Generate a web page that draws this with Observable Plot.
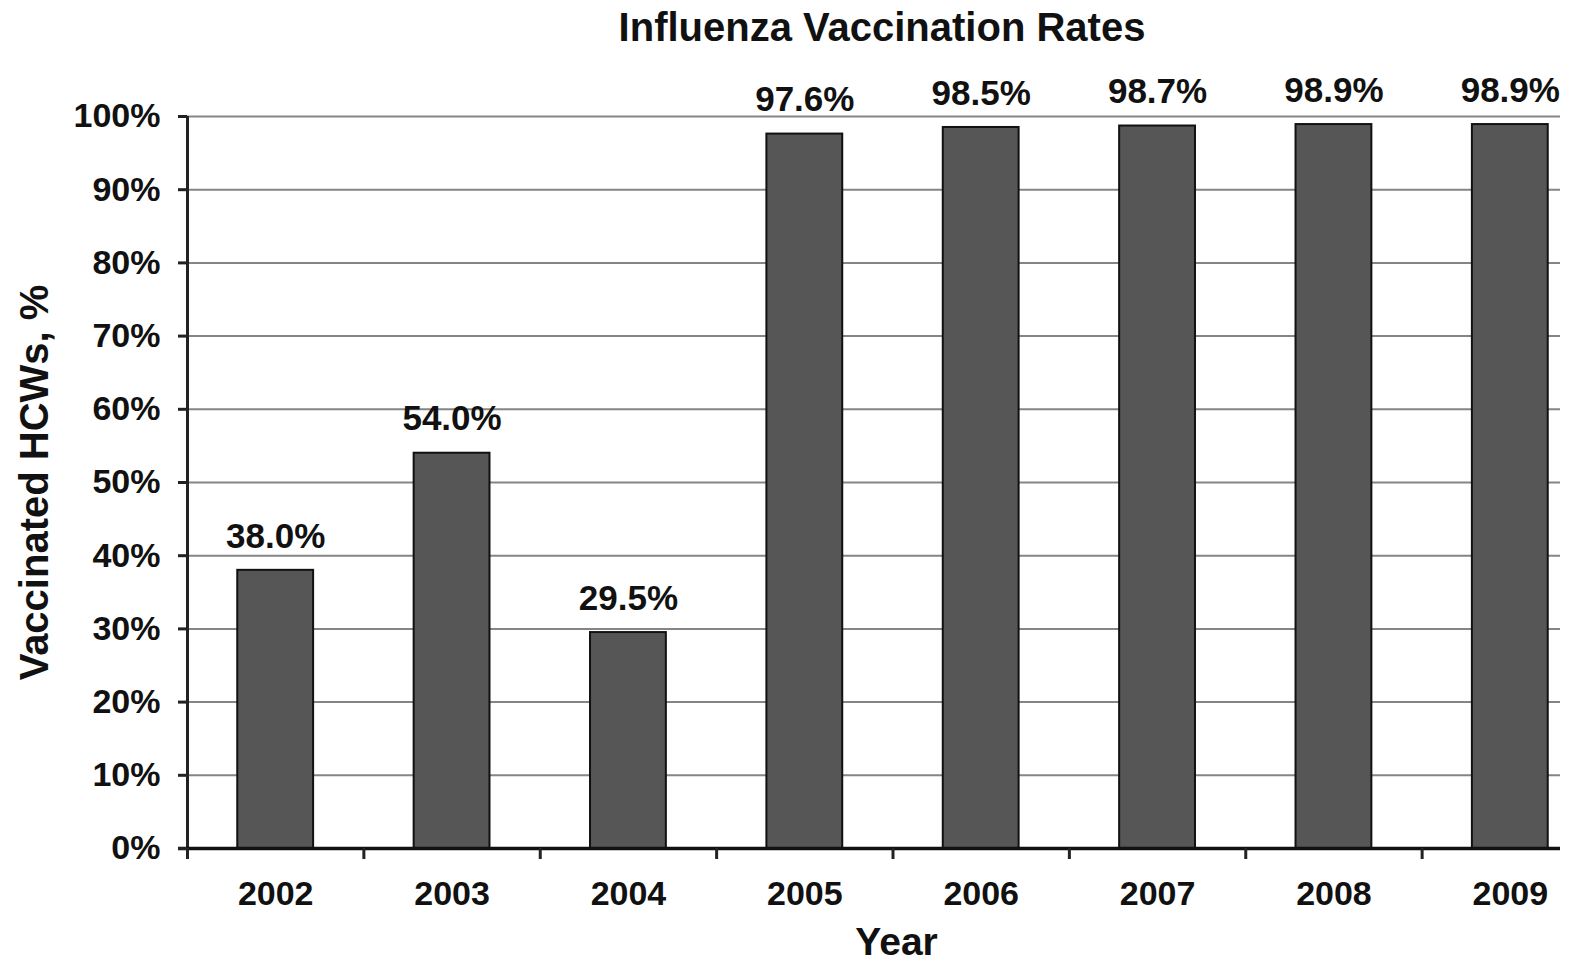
<!DOCTYPE html>
<html>
<head>
<meta charset="utf-8">
<script src="https://cdn.jsdelivr.net/npm/d3@7"></script>
<script src="https://cdn.jsdelivr.net/npm/@observablehq/plot@0.6"></script>
<style>
  html, body { margin: 0; padding: 0; background: #fff; overflow: hidden; }
  body { font-family: "Liberation Sans", Arial, sans-serif; }
  #title {
    position: relative; height: 55px; width: 1570px;
  }
  #title span {
    position: absolute; left: 882px; top: 27px;
    transform: translate(-50%, -50%);
    font-size: 40px; font-weight: bold; color: #111; white-space: nowrap;
  }
  #chart svg { display: block; }
</style>
</head>
<body>
<div id="title"><span>Influenza Vaccination Rates</span></div>
<div id="chart"></div>
<script>
// Share of health-care workers vaccinated against influenza, by year
const years = [2002, 2003, 2004, 2005, 2006, 2007, 2008, 2009];
const rates = [38.0, 54.0, 29.5, 97.6, 98.5, 98.7, 98.9, 98.9];
const yTicks = [0, 10, 20, 30, 40, 50, 60, 70, 80, 90, 100];
const xDomain = [2001.5, 2009.5];
const yearBoundaries = [2001.5, 2002.5, 2003.5, 2004.5, 2005.5, 2006.5, 2007.5, 2008.5];

const data = years.map((year, i) => ({year, value: rates[i]}));
const half = 0.215; // half bar width, in years

const font = "Liberation Sans, Arial, sans-serif";

const chart = Plot.plot({
  width: 1570,
  height: 907,
  marginTop: 61,
  marginBottom: 114,
  marginLeft: 187,
  marginRight: 10,
  style: {fontFamily: font, background: "white", color: "#111"},
  x: {domain: xDomain, range: [187, 1598], axis: null},
  y: {domain: [0, 100], axis: null},
  marks: [
    // horizontal grid
    Plot.ruleY(yTicks.filter(d => d > 0), {stroke: "#858585", strokeWidth: 2}),
    // bars
    Plot.rectY(data, {
      x1: d => d.year - half,
      x2: d => d.year + half,
      y1: 0,
      y2: "value",
      fill: "#565656",
      stroke: "#111",
      strokeWidth: 2
    }),
    // value labels
    Plot.text(data, {
      x: "year",
      y: "value",
      text: d => d.value.toFixed(1) + "%",
      dy: -34,
      fontSize: 35,
      fontWeight: "bold",
      fill: "#111"
    }),
    // axis lines
    Plot.ruleX([xDomain[0]], {stroke: "#222", strokeWidth: 3}),
    Plot.ruleY([0], {stroke: "#111", strokeWidth: 3.5, insetLeft: -9}),
    // y axis ticks and labels
    Plot.axisY({
      ticks: yTicks,
      label: null,
      tickSize: 9,
      tickPadding: 18,
      tickFormat: d => d + "%",
      fontSize: 34,
      fontWeight: "bold",
      stroke: "#222",
      strokeWidth: 3,
      fill: "#111"
    }),
    // x tick marks between categories
    Plot.axisX({
      ticks: yearBoundaries,
      label: null,
      tickSize: 11,
      tickFormat: () => "",
      stroke: "#222",
      strokeWidth: 3
    }),
    // year labels
    Plot.axisX({
      ticks: years,
      label: null,
      tickSize: 0,
      tickPadding: 32,
      tickFormat: d => String(d),
      fontSize: 34,
      fontWeight: "bold",
      fill: "#111"
    }),
    // axis titles
    Plot.text(["Year"], {
      x: () => 2005.52,
      frameAnchor: "bottom",
      textAnchor: "middle",
      dy: 106,
      fontSize: 39,
      fontWeight: "bold",
      fill: "#111"
    }),
    Plot.text(["Vaccinated HCWs, %"], {
      frameAnchor: "left",
      textAnchor: "middle",
      dx: -152,
      rotate: -90,
      fontSize: 40,
      fontWeight: "bold",
      fill: "#111"
    })
  ]
});

document.getElementById("chart").append(chart);
</script>
</body>
</html>
